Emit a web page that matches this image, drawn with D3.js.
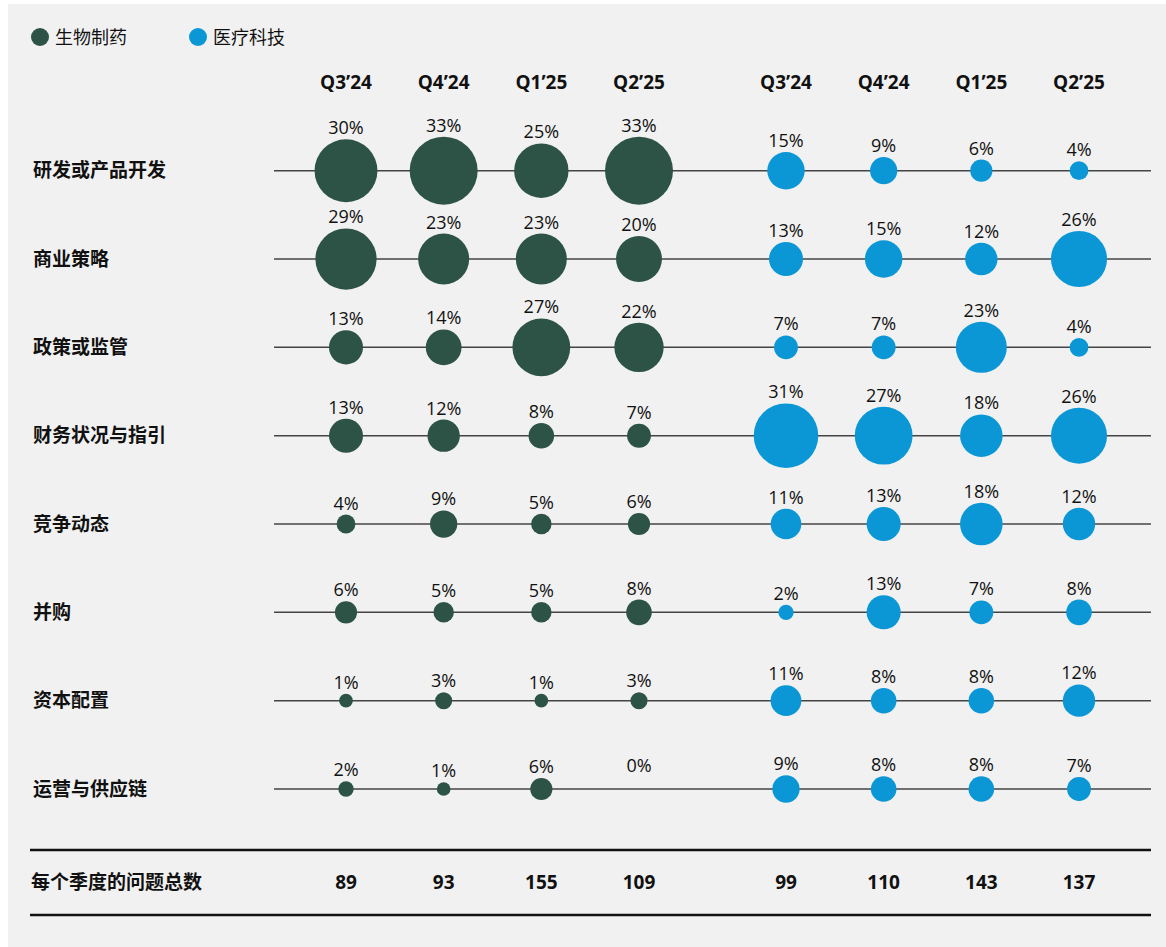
<!DOCTYPE html>
<html>
<head>
<meta charset="utf-8">
<script src="https://cdn.jsdelivr.net/npm/d3@7"></script>
<style>
  body { margin: 0; background: #fff; }
  text { font-family: "Open Sans", "Noto Sans CJK SC", sans-serif; fill: #111; }
</style>
</head>
<body>
<div id="chart"></div>
<script>
// chart data
var quarters = ["Q3’24", "Q4’24", "Q1’25", "Q2’25"];
var topics = ["研发或产品开发", "商业策略", "政策或监管", "财务状况与指引", "竞争动态", "并购", "资本配置", "运营与供应链"];
var seriesNames = ["生物制药", "医疗科技"];
var seriesColors = ["#2c5345", "#0b97d6"];

// percent by topic, one value per quarter
var biopharma = [
  [30, 33, 25, 33],
  [29, 23, 23, 20],
  [13, 14, 27, 22],
  [13, 12, 8, 7],
  [4, 9, 5, 6],
  [6, 5, 5, 8],
  [1, 3, 1, 3],
  [2, 1, 6, 0]
];
var medtech = [
  [15, 9, 6, 4],
  [13, 15, 12, 26],
  [7, 7, 23, 4],
  [31, 27, 18, 26],
  [11, 13, 18, 12],
  [2, 13, 7, 8],
  [11, 8, 8, 12],
  [9, 8, 8, 7]
];
var biopharmaTotals = [89, 93, 155, 109];
var medtechTotals = [99, 110, 143, 137];

var svgWidth = 1166;
var svgHeight = 947;

var svg = d3.select("#chart")
  .append("svg")
  .attr("width", svgWidth)
  .attr("height", svgHeight);

// gray panel
svg.append("rect")
  .attr("x", 8)
  .attr("y", 4)
  .attr("width", svgWidth - 8)
  .attr("height", svgHeight - 4)
  .attr("fill", "#f1f1f1");

// scales
var xGroups = [
  d3.scalePoint().domain(quarters).range([346, 639]),
  d3.scalePoint().domain(quarters).range([786, 1079])
];
var yScale = d3.scalePoint().domain(topics).range([170.7, 789]);
var rScale = d3.scaleLinear().domain([0, 33]).range([6, 34]);

// legend
var legend = svg.append("g").attr("transform", "translate(40, 37)");
seriesNames.forEach(function(name, i) {
  var g = legend.append("g").attr("transform", `translate(${i * 158}, 0)`);
  g.append("circle").attr("r", 9).attr("fill", seriesColors[i]);
  g.append("text")
    .attr("x", 15)
    .attr("y", 6.5)
    .style("font-size", "18px")
    .text(name);
});

// quarter headers
xGroups.forEach(function(x) {
  svg.append("g").selectAll("text")
    .data(quarters)
    .enter()
    .append("text")
    .attr("x", d => x(d))
    .attr("y", 89)
    .attr("text-anchor", "middle")
    .style("font-size", "19px")
    .style("font-weight", "bold")
    .text(d => d);
});

// row lines and labels
var rows = svg.append("g");
rows.selectAll("line")
  .data(topics)
  .enter()
  .append("line")
  .attr("x1", 274)
  .attr("x2", 1151)
  .attr("y1", d => yScale(d))
  .attr("y2", d => yScale(d))
  .attr("stroke", "#444")
  .attr("stroke-width", 1.5);

rows.selectAll("text")
  .data(topics)
  .enter()
  .append("text")
  .attr("x", 33)
  .attr("y", d => yScale(d) + 6.5)
  .style("font-size", "19px")
  .style("font-weight", "bold")
  .text(d => d);

// bubbles
[biopharma, medtech].forEach(function(series, s) {
  var x = xGroups[s];
  var cells = [];
  series.forEach(function(vals, r) {
    vals.forEach(function(v, q) {
      cells.push({ topic: topics[r], quarter: quarters[q], value: v });
    });
  });

  var g = svg.append("g");
  g.selectAll("circle")
    .data(cells.filter(d => d.value > 0))
    .enter()
    .append("circle")
    .attr("cx", d => x(d.quarter))
    .attr("cy", d => yScale(d.topic))
    .attr("r", d => rScale(d.value))
    .attr("fill", seriesColors[s]);

  g.selectAll("text")
    .data(cells)
    .enter()
    .append("text")
    .attr("x", d => x(d.quarter))
    .attr("y", d => yScale(d.topic) - (d.value > 0 ? rScale(d.value) : 12) - 5)
    .attr("text-anchor", "middle")
    .style("font-size", "18px")
    .text(d => d.value + "%");
});

// totals row
var totals = svg.append("g");
[850, 915].forEach(function(y) {
  totals.append("line")
    .attr("x1", 30)
    .attr("x2", 1151)
    .attr("y1", y)
    .attr("y2", y)
    .attr("stroke", "#111")
    .attr("stroke-width", 2.5);
});
totals.append("text")
  .attr("x", 31)
  .attr("y", 889)
  .style("font-size", "19px")
  .style("font-weight", "bold")
  .text("每个季度的问题总数");

[biopharmaTotals, medtechTotals].forEach(function(vals, s) {
  totals.append("g").selectAll("text")
    .data(vals)
    .enter()
    .append("text")
    .attr("x", (d, i) => xGroups[s](quarters[i]))
    .attr("y", 889)
    .attr("text-anchor", "middle")
    .style("font-size", "19px")
    .style("font-weight", "bold")
    .text(d => d);
});
</script>
</body>
</html>
